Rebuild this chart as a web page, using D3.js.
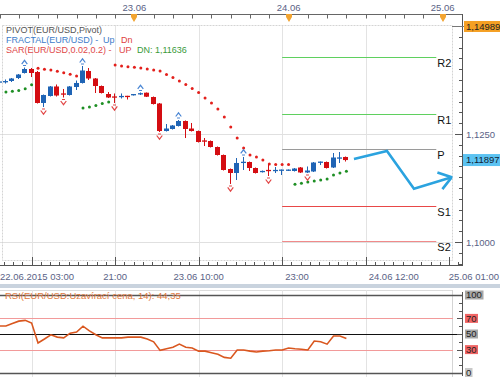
<!DOCTYPE html>
<html><head><meta charset="utf-8">
<script src="https://cdn.jsdelivr.net/npm/d3@7"></script>
<style>body{margin:0;background:#fff}svg{display:block}text{font-family:"Liberation Sans",Arial,sans-serif}</style>
</head><body><svg id="c" width="500" height="377"></svg>
<script>
// ---------- data ----------
const startTime = Date.UTC(2015,5,22,3); // first hourly bar
const opens=[1.13692,1.13704,1.13727,1.13796,1.13912,1.14005,1.13935,1.13218,1.13380,1.13600,
1.13438,1.13403,1.13588,1.13681,1.13958,1.13785,1.13611,1.13426,1.13368,1.13356,
1.13380,1.13403,1.13414,1.13456,1.13356,1.13206,1.12569,1.12616,1.12685,1.12801,
1.12627,1.12569,1.12350,1.12338,1.12199,1.12014,1.11690,1.11597,1.11829,1.11852,
1.11713,1.11620,1.11667,1.11644,1.11655,1.11655,1.11644,1.11725,1.11609,1.11632,
1.11840,1.11852,1.11725,1.11933,1.11968];
const highs=[1.13750,1.13762,1.13796,1.13889,1.14039,1.14028,1.13958,1.13414,1.13611,1.13646,
1.13542,1.13611,1.13738,1.14074,1.14028,1.13796,1.13623,1.13472,1.13438,1.13438,
1.13384,1.13426,1.13461,1.13461,1.13368,1.13218,1.12731,1.12708,1.12824,1.12813,
1.12755,1.12581,1.12407,1.12350,1.12211,1.12025,1.11701,1.11944,1.11968,1.11863,
1.11725,1.11655,1.11794,1.11736,1.11678,1.11678,1.11713,1.11736,1.11748,1.11852,
1.11863,1.11863,1.12060,1.12083,1.11979];
const lows=[1.13669,1.13669,1.13704,1.13773,1.13900,1.13819,1.13206,1.13125,1.13368,1.13368,
1.13345,1.13391,1.13519,1.13669,1.13750,1.13449,1.13438,1.13333,1.13218,1.13322,
1.13299,1.13391,1.13403,1.13356,1.13183,1.12546,1.12558,1.12604,1.12674,1.12407,
1.12558,1.12303,1.12222,1.12188,1.12002,1.11655,1.11343,1.11435,1.11667,1.11644,
1.11586,1.11609,1.11528,1.11597,1.11551,1.11644,1.11632,1.11597,1.11597,1.11620,
1.11782,1.11701,1.11713,1.11829,1.11863];
const closes=[1.13715,1.13720,1.13785,1.13877,1.14005,1.13912,1.13218,1.13403,1.13600,1.13391,
1.13414,1.13600,1.13681,1.13970,1.13785,1.13611,1.13449,1.13345,1.13345,1.13380,
1.13361,1.13419,1.13449,1.13363,1.13194,1.12569,1.12627,1.12697,1.12801,1.12616,
1.12569,1.12315,1.12326,1.12199,1.12014,1.11667,1.11597,1.11829,1.11859,1.11713,
1.11597,1.11644,1.11644,1.11667,1.11671,1.11671,1.11701,1.11609,1.11655,1.11840,
1.11856,1.11713,1.11956,1.11956,1.11897];
const sarValues=[null,1.13472,1.13488,1.13507,1.13549,1.13641,
1.14021,1.13998,1.13981,1.13951,1.13919,1.13882,1.13843,
1.13102,1.13125,1.13160,1.13206,1.13241,
1.14097,1.14074,1.14058,1.14044,1.14028,1.14005,1.13981,1.13958,1.13877,1.13808,
1.13727,1.13646,1.13553,1.13461,1.13333,1.13218,1.13079,1.12894,1.12662,1.12407,
1.12176,1.12014,1.11968,1.11898,1.11806,1.11794,1.11794,1.11794,
1.11336,1.11359,1.11389,1.11412,1.11435,1.11458,1.11551,1.11597,1.11636];
const fractalUp=[4,13,22,28,38];
const fractalDn=[7,10,18,25,36,42,48];
const rsiValues=[60.3,60.3,63.5,66.5,67.5,64,38.5,43.6,49,46,
45,51,52.5,60,54,49,45,45,45,45,
46,46,46,43.5,40,29,31,33,37,33,
32,28,28,26,24,20,19,29.5,29.5,28,
27,28,28.5,29.5,29.5,32,31,30.5,29.5,41,
40,37,47.5,47.5,44.35];
const pivotNames=["R2","R1","P","S1","S2"];
const pivotLevels=[1.1428,1.1296,1.1215,1.1083,1.1002];
const pivotColors=["#5fd05f","#5fd05f","#9a9a9a","#e84848","#f08a8a"];
const pivotStart=Date.UTC(2015,5,23,23), pivotEnd=Date.UTC(2015,5,24,23);
const arrowHours=[55.18,60.32,64.52,70.39];
const arrowPrices=[1.11921,1.12106,1.11234,1.11498];
const priceTicks=[1.1000,1.1250];
const priceTickLabels=["1,1000","1,1250"];
const topDays=[Date.UTC(2015,5,23),Date.UTC(2015,5,24),Date.UTC(2015,5,25)];
const topDayLabels=["23.06","24.06","25.06"];
const bottomTickTimes=[Date.UTC(2015,5,22,8),Date.UTC(2015,5,22,21),Date.UTC(2015,5,23,10),Date.UTC(2015,5,23,23),Date.UTC(2015,5,24,12),Date.UTC(2015,5,25,1)];
const bottomTickLabels=["","21:00","23.06 10:00","23:00","24.06 12:00","25.06 01:00"];
const bottomLabelAnchor=["middle","middle","middle","start","start","start"];
const firstLabel="22.06.2015 03:00";
const rsiLevels=[100,70,50,30,0];
const lastPrice=1.11897, topPrice=1.14989;

// ---------- scales ----------
const W=500;
const svg=d3.select('#c');
const x=d3.scaleUtc().domain([new Date(startTime),new Date(Date.UTC(2015,5,25,3))]).range([-0.5,462]);
const t=i=>new Date(startTime+i*3600e3);
const y=d3.scaleLinear().domain([1.1000,1.1250]).range([242,134]);
const yr=d3.scaleLinear().domain([0,100]).range([373,295]);
const plotL=0, plotR=452.5, plotT=25, plotB=260;
const BLUE="#1f64b5", RED="#d40d12";

svg.append('rect').attr('x',0).attr('y',0).attr('width',500).attr('height',377).attr('fill','#fff');
svg.append('rect').attr('x',0).attr('y',284).attr('width',500).attr('height',4).attr('fill','#c9d3de');

const defs=svg.append('defs');
defs.append('clipPath').attr('id','cp').append('rect').attr('x',plotL).attr('y',plotT).attr('width',plotR-plotL).attr('height',plotB-plotT);
defs.append('clipPath').attr('id','cr').append('rect').attr('x',0).attr('y',290).attr('width',plotR).attr('height',86);

const g=svg.append('g');
g.selectAll('.vg').data(bottomTickTimes.slice(0,5)).join('line')
 .attr('x1',d=>Math.round(x(new Date(d)))+0.5).attr('x2',d=>Math.round(x(new Date(d)))+0.5)
 .attr('y1',plotT).attr('y2',plotB).attr('stroke','#e3e3e3');
g.selectAll('.hg').data(priceTicks).join('line')
 .attr('x1',plotL).attr('x2',plotR).attr('y1',d=>Math.round(y(d))+0.5).attr('y2',d=>Math.round(y(d))+0.5).attr('stroke','#e0e0e0');
svg.append('rect').attr('x',2.5).attr('y',plotT+0.5).attr('width',plotR-2.5).attr('height',plotB-plotT).attr('fill','none').attr('stroke','#d4d4d4').attr('stroke-dasharray','2,1');

const main=svg.append('g').attr('clip-path','url(#cp)');
main.selectAll('.pv').data(pivotLevels).join('line')
 .attr('x1',x(new Date(pivotStart))).attr('x2',x(new Date(pivotEnd)))
 .attr('y1',d=>Math.round(y(d))+0.5).attr('y2',d=>Math.round(y(d))+0.5)
 .attr('stroke',(d,i)=>pivotColors[i]).attr('stroke-width',1);
main.selectAll('.pvl').data(pivotLevels).join('text')
 .attr('x',x(new Date(pivotEnd))+1).attr('y',d=>y(d)+10)
 .attr('font-size',11).attr('fill','#111').text((d,i)=>pivotNames[i]);

const idx=d3.range(opens.length);
main.selectAll('.sar').data(idx.filter(i=>sarValues[i]!=null)).join('circle')
 .attr('cx',i=>x(t(i))).attr('cy',i=>y(sarValues[i])).attr('r',1.5)
 .attr('fill',i=>sarValues[i]>highs[i]?'#e3201c':'#1e8f24');

const cg=main.append('g');
idx.forEach(i=>{
  const cx=Math.round(x(t(i)));
  const col=closes[i]>=opens[i]?BLUE:RED;
  cg.append('rect').attr('x',cx-1).attr('width',1).attr('y',y(highs[i])).attr('height',Math.max(1,y(lows[i])-y(highs[i]))).attr('fill',col);
  const top=y(Math.max(opens[i],closes[i])), bot=y(Math.min(opens[i],closes[i]));
  if(bot-top<1.6){
    cg.append('rect').attr('x',cx-3).attr('width',5).attr('y',(top+bot)/2-0.6).attr('height',1.3).attr('fill',col);
  } else {
    cg.append('rect').attr('x',cx-3).attr('width',5).attr('y',top).attr('height',bot-top).attr('fill',col);
  }
});
main.selectAll('.fu').data(fractalUp).join('path')
 .attr('transform',i=>`translate(${Math.round(x(t(i)))-0.5},${y(highs[i])-5})`)
 .attr('d','M-2.8,1.5L0,-2.2L2.8,1.5M-1.5,3h3').attr('fill','none').attr('stroke','#4a86d4').attr('stroke-width',1.2);
main.selectAll('.fd').data(fractalDn).join('path')
 .attr('transform',i=>`translate(${Math.round(x(t(i)))-0.5},${y(lows[i])+5})`)
 .attr('d','M-2.8,-1.5L0,2.2L2.8,-1.5M-1.5,-3h3').attr('fill','none').attr('stroke','#e24848').attr('stroke-width',1.2);

const ap=arrowHours.map((h,i)=>[x(new Date(startTime+h*3600e3)),y(arrowPrices[i])]);
main.append('path').attr('d',d3.line()(ap)).attr('fill','none').attr('stroke','#2ba3df').attr('stroke-width',2.6).attr('stroke-linejoin','miter');
{
  const [a,b]=ap.slice(-2); const ang=Math.atan2(a[1]-b[1],a[0]-b[0]);
  const L=15, sp=35*Math.PI/180;
  const p1=[b[0]+L*Math.cos(ang+sp),b[1]+L*Math.sin(ang+sp)], p2=[b[0]+L*Math.cos(ang-sp),b[1]+L*Math.sin(ang-sp)];
  main.append('path').attr('d',d3.line()([p1,b,p2])).attr('fill','none').attr('stroke','#2ba3df').attr('stroke-width',2.6);
}

// legend
const lg=svg.append('g').attr('font-size',9);
lg.append('text').attr('x',6).attr('y',32.5).attr('fill','#555').text('PIVOT(EUR/USD,Pivot)');
const l2=lg.append('text').attr('x',6).attr('y',42.5);
l2.append('tspan').attr('fill','#3d7cc9').text('FRACTAL(EUR/USD) -');
l2.append('tspan').attr('x',103).attr('fill','#3d7cc9').text('Up');
l2.append('tspan').attr('x',121).attr('fill','#e04040').text('Dn');
const l3=lg.append('text').attr('x',6).attr('y',52.5);
l3.append('tspan').attr('fill','#e04848').text('SAR(EUR/USD,0.02,0.2) -');
l3.append('tspan').attr('x',119).attr('fill','#e04848').text('UP');
l3.append('tspan').attr('x',137).attr('fill','#3a9a3a').text('DN: 1,11636');

// top axis
const ta=svg.append('g');
ta.append('line').attr('x1',0).attr('x2',463).attr('y1',14.5).attr('y2',14.5).attr('stroke','#666');
const topMinor=d3.range(0,73,3).map(h=>startTime+h*3600e3);
ta.selectAll('.tt').data(topMinor).join('line')
 .attr('x1',d=>Math.round(x(new Date(d)))+0.5).attr('x2',d=>Math.round(x(new Date(d)))+0.5)
 .attr('y1',14.5).attr('y2',18.5).attr('stroke','#666');
ta.selectAll('.tl').data(topDays).join('text').attr('x',d=>x(new Date(d))).attr('y',11).attr('text-anchor','middle')
 .attr('font-size',9.5).attr('fill','#5a6285').text((d,i)=>topDayLabels[i]);
ta.selectAll('.tm').data(topDays).join('path')
 .attr('transform',d=>`translate(${Math.round(x(new Date(d)))},14)`)
 .attr('d','M-3,0h6v3l-3,5l-3,-5z').attr('fill','#f2a431');

// right price axis
const ra=svg.append('g');
ra.append('line').attr('x1',462.5).attr('x2',462.5).attr('y1',14).attr('y2',266).attr('stroke','#555');
const minorP=d3.range(0,23).map(k=>1.0950+k*0.0025);
ra.selectAll('.pt').data(minorP).join('line')
 .attr('x1',(d,i)=>i%10===2?455:459).attr('x2',462.5)
 .attr('y1',d=>Math.round(y(d))+0.5).attr('y2',d=>Math.round(y(d))+0.5).attr('stroke','#555');
ra.selectAll('.pl').data(priceTicks).join('text').attr('x',466).attr('y',d=>y(d)+3.5)
 .attr('font-size',9.5).attr('fill','#5a6285').text((d,i)=>priceTickLabels[i]);
ra.append('line').attr('x1',452).attr('x2',465).attr('y1',Math.round(y(topPrice))+0.5).attr('y2',Math.round(y(topPrice))+0.5).attr('stroke','#777');
ra.append('rect').attr('x',464).attr('y',y(topPrice)-5.5).attr('width',36).attr('height',11).attr('fill','#f5a023');
ra.append('text').attr('x',466).attr('y',y(topPrice)+3.3).attr('font-size',9.5).attr('fill','#222').text('1,14989');
ra.append('rect').attr('x',463).attr('y',y(lastPrice)-6).attr('width',37).attr('height',12).attr('fill','#5cc3f2');
ra.append('text').attr('x',466).attr('y',y(lastPrice)+3.3).attr('font-size',9.5).attr('fill','#123').text('1,11897');

// bottom axis
const ba=svg.append('g');
ba.append('line').attr('x1',0).attr('x2',463).attr('y1',265.5).attr('y2',265.5).attr('stroke','#555');
const minorB=[];
for(let k=0;k<bottomTickTimes.length;k++){for(let j=-8;j<9;j++){const tt=bottomTickTimes[k]+j*13/9*3600e3; if(j!==0) minorB.push(tt);}}
ba.selectAll('.bm').data(minorB.filter(d=>x(new Date(d))>0&&x(new Date(d))<462)).join('line')
 .attr('x1',d=>Math.round(x(new Date(d)))+0.5).attr('x2',d=>Math.round(x(new Date(d)))+0.5)
 .attr('y1',262).attr('y2',265.5).attr('stroke','#555');
ba.selectAll('.bM').data(bottomTickTimes).join('line')
 .attr('x1',d=>Math.round(x(new Date(d)))+0.5).attr('x2',d=>Math.round(x(new Date(d)))+0.5)
 .attr('y1',257).attr('y2',265.5).attr('stroke','#555');
ba.selectAll('.bl').data(bottomTickTimes).join('text')
 .attr('x',(d,i)=>x(new Date(d))+(bottomLabelAnchor[i]==='start'?3:0)).attr('y',279.5)
 .attr('text-anchor',(d,i)=>bottomLabelAnchor[i]).attr('font-size',9.5).attr('fill','#5a6285').text((d,i)=>bottomTickLabels[i])
 .each(function(){ // keep labels inside the picture
   const bb=this.getBBox(); if(bb.x+bb.width>W-1){ d3.select(this).attr('text-anchor','end').attr('x',W-1); }
 });
ba.append('text').attr('x',0).attr('y',279.5).attr('font-size',9.5).attr('fill','#5a6285').text(firstLabel);

// ---------- RSI panel ----------
const rp=svg.append('g');
rp.append('line').attr('x1',0).attr('x2',plotR).attr('y1',290.5).attr('y2',290.5).attr('stroke','#dcdcdc');
rp.selectAll('.rv').data(bottomTickTimes.slice(0,5)).join('line')
 .attr('x1',d=>Math.round(x(new Date(d)))+0.5).attr('x2',d=>Math.round(x(new Date(d)))+0.5)
 .attr('y1',290).attr('y2',377).attr('stroke','#e3e3e3');
rp.append('line').attr('x1',plotR).attr('x2',plotR).attr('y1',290).attr('y2',377).attr('stroke','#d4d4d4');
const lvlStyle={100:['#555',1.6,463],70:['#f29a9a',1,453],50:['#111',1,463],30:['#f29a9a',1,453],0:['#555',1.6,463]};
rp.selectAll('.rl').data(rsiLevels).join('line')
 .attr('x1',0).attr('x2',d=>lvlStyle[d][2]).attr('y1',d=>Math.round(yr(d))+0.5).attr('y2',d=>Math.round(yr(d))+0.5)
 .attr('stroke',d=>lvlStyle[d][0]).attr('stroke-width',d=>lvlStyle[d][1]);
rp.append('path').attr('clip-path','url(#cr)').attr('d',d3.line().x((d,i)=>x(t(i))).y(d=>yr(d))(rsiValues))
 .attr('fill','none').attr('stroke','#d9571f').attr('stroke-width',1.6);
rp.append('text').attr('x',5).attr('y',298.5).attr('font-size',9.5).attr('fill','#e27a3e').text('RSI(EUR/USD:Uzavírací cena, 14): 44,35');
rp.append('line').attr('x1',462.5).attr('x2',462.5).attr('y1',292).attr('y2',376).attr('stroke','#555');
rp.selectAll('.rt').data(d3.range(0,101,10)).join('line')
 .attr('x1',d=>[0,30,50,70,100].includes(d)?457:459).attr('x2',462.5).attr('y1',d=>Math.round(yr(d))+0.5).attr('y2',d=>Math.round(yr(d))+0.5).attr('stroke','#555');
const boxCol={100:'#a8a8a8',70:'#f06464',50:'#a8a8a8',30:'#f06464',0:'#c8c8c8'};
rsiLevels.forEach(v=>{
  const w=String(v).length*5.5+2;
  rp.append('rect').attr('x',465).attr('y',Math.min(yr(v)-4.5,368)).attr('width',w).attr('height',9).attr('fill',boxCol[v]);
  rp.append('text').attr('x',466).attr('y',Math.min(yr(v)-4.5,368)+7.6).attr('font-size',9.5).attr('fill','#222').text(v);
});
</script></body></html>
